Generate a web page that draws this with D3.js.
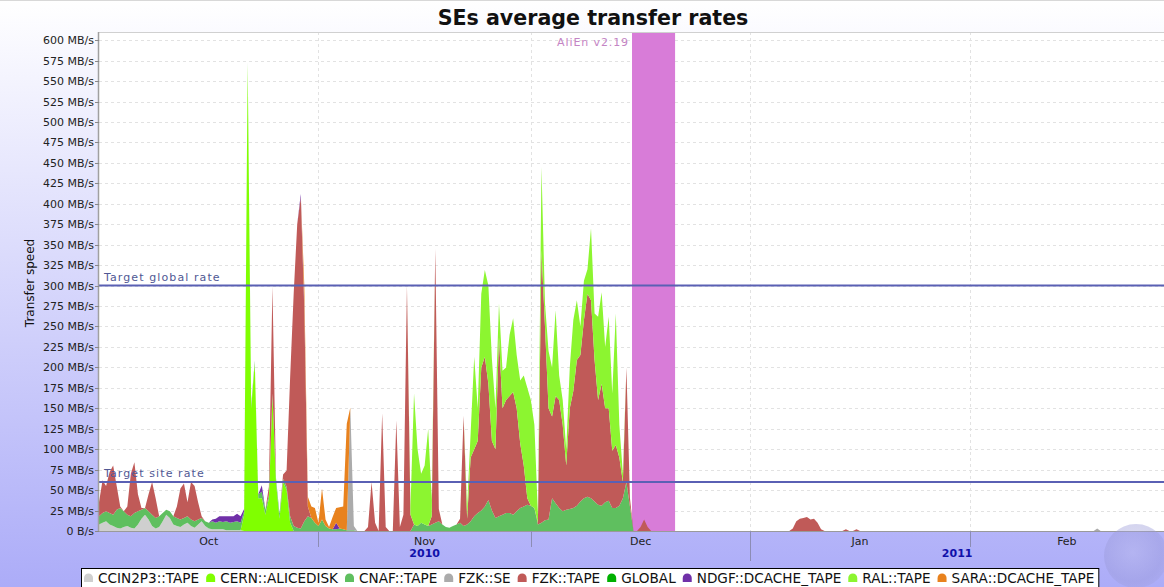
<!DOCTYPE html>
<html>
<head>
<meta charset="utf-8">
<script src="https://cdn.jsdelivr.net/npm/d3@7"></script>
<style>
body { margin: 0; background: #fff; font-family: "DejaVu Sans", sans-serif; }
svg { display: block; }
</style>
</head>
<body>
<svg id="chart" width="1164" height="587"></svg>
<script>
// one sample every 12 hours, starting 1 Oct 2010 (UTC)
var startTime = Date.UTC(2010, 9, 1);
var endTime = Date.UTC(2011, 1, 28, 10, 30);
var stepMs = 12 * 3600 * 1000;
var nSamples = 302;

// every series: list of runs [first sample index, [MB/s, ...]], zero outside the runs
var ccin2p3Tape = [
    [0, [8,10,12,8,6,4,3,5,6,4, 3,8,15,20,14,6,3,5,12,20, 16,8,6,5,8,10,6,4,8,12, 6,3,2,2,2,2,1,1,1,1, 1]]
];
var cernAlicedisk = [
    [41, [20,570,150,205,40,40,20,40,165,60,15,60,50,10]]
];
var cnafTape = [
    [0, [10,12,12,14,14,22,25,19,14,14, 19,16,11,8,10,14,13,13,10,6, 8,10,10,9,8,8,8,8,6,4,
         6,7,10,8,10,9,11,9,10,11, 9,4,3,4,3,5,8,6,4,3, 5,6,4,4,8,6,4,3,12,18,
         16,10,6,14,6,3,2,2,3,2, 1,1,1]],
    [89, [8,6,10,8,6,8,10,12,8,5, 4,6,8,10,6,8,12,18,22,25, 30,38,25,16,18,20,22,22,20,24,
          28,30,32,31,28,8,10,13,14,40, 34,28,24,26,27,28,31,36,40,42, 40,36,32,31,35,37,28,28,31,40,
          60,30]]
];
var fzkSe = [
    [71, [150,5]],
    [282, [3]]
];
var fzkTape = [
    [0, [17,40,31,50,60,29,2,0,10,52, 62,21,2,0,21,40,24,0,0,0, 0,0,14,38,42,17,46,43,21,2]],
    [48, [10,131,0,0,5,20,170,284,371,405,258,12]],
    [76, [5,60,10,0,144,5,0,0,135,5,20,300,20]],
    [94, [10,335,15]],
    [102, [5,135,7,78,82,88,175,183,142,85, 84,219,130,138,143,150,126,79,50,8,
           0,0,2,333,237,136,100,131,132,106, 54,123,143,178,179,218,248,242,173,128,
           149,115,113,70,77,59,20,140,10]],
    [153, [5,14,5]],
    [196, [3,12,15,16,17,14,15,10,2]],
    [211, [2]],
    [214, [2]]
];
var globalSe = [];
var ndgfTape = [
    [32, [2,5,6,7,6,8,7,9,8,3]],
    [46, [8]],
    [57, [4,5]],
    [67, [8]]
];
var ralTape = [
    [88, [10,160,94,60,72,119,20]],
    [104, [15,30,113,40,90,106,120,100,50,41, 46,40,75,90,65,77,110,135,129,102,
           10,102,28,70,60,105,30,30,20,50, 87,73,35,48,30,88,57,102,112,75,
           112,70,161,40,10,0]]
];
var saraTape = [
    [58, [25,12,14,18,4,38,8,2,15,18,26,28,130]]
];

var seriesNames = ["CCIN2P3::TAPE", "CERN::ALICEDISK", "CNAF::TAPE", "FZK::SE", "FZK::TAPE",
                   "GLOBAL", "NDGF::DCACHE_TAPE", "RAL::TAPE", "SARA::DCACHE_TAPE"];
var seriesRuns = [ccin2p3Tape, cernAlicedisk, cnafTape, fzkSe, fzkTape,
                  globalSe, ndgfTape, ralTape, saraTape];
var seriesColors = ["#cfcfcf", "#80ff00", "#5fbf5f", "#ababab", "#c05a58",
                    "#00b000", "#7030a8", "#8cf530", "#e8821e"];

var yTicks = d3.range(0, 601, 25);
var targets = [
    {label: "Target global rate", value: 300},
    {label: "Target site rate", value: 60}
];
var release = {label: "AliEn v2.19", from: Date.UTC(2010, 11, 15, 7), to: Date.UTC(2010, 11, 21, 9)};

// ---------------------------------------------------------------------------

var svg = d3.select("#chart");
var W = 1164, H = 587;
var plot = {left: 99, right: 1164, top: 32, bottom: 531};

var x = d3.scaleUtc().domain([startTime, endTime]).range([plot.left, plot.right]);
var y = d3.scaleLinear().domain([0, 610]).range([plot.bottom, plot.top]);

// rows for the stack
var rows = d3.range(nSamples).map(function(i) {
    var r = {date: new Date(startTime + i * stepMs)};
    seriesNames.forEach(function(n) { r[n] = 0; });
    return r;
});
seriesRuns.forEach(function(runs, k) {
    runs.forEach(function(run) {
        run[1].forEach(function(v, j) {
            if (rows[run[0] + j]) rows[run[0] + j][seriesNames[k]] = v;
        });
    });
});

var stacked = d3.stack().keys(seriesNames)(rows);

var defs = svg.append("defs");
var bg = defs.append("linearGradient").attr("id", "bg")
    .attr("x1", 0).attr("y1", 0).attr("x2", 0).attr("y2", 1);
bg.append("stop").attr("offset", "0%").attr("stop-color", "#ffffff");
bg.append("stop").attr("offset", "100%").attr("stop-color", "#acacf8");

var globe = defs.append("radialGradient").attr("id", "globe")
    .attr("cx", "45%").attr("cy", "45%").attr("r", "60%");
globe.append("stop").attr("offset", "0%").attr("stop-color", "#b8b8e8");
globe.append("stop").attr("offset", "75%").attr("stop-color", "#9a9ad8");
globe.append("stop").attr("offset", "100%").attr("stop-color", "#a4a4e4");

defs.append("clipPath").attr("id", "clip").append("rect")
    .attr("x", plot.left).attr("y", plot.top)
    .attr("width", plot.right - plot.left).attr("height", plot.bottom - plot.top);

svg.append("rect").attr("width", W).attr("height", H).attr("fill", "url(#bg)");
svg.append("line").attr("x1", 0).attr("x2", W).attr("y1", 0.5).attr("y2", 0.5)
    .attr("stroke", "#d8d8d8");

// plot background
svg.append("rect")
    .attr("x", plot.left).attr("y", plot.top)
    .attr("width", plot.right - plot.left).attr("height", plot.bottom - plot.top)
    .attr("fill", "#fff");

var monthBounds = d3.utcMonth.range(d3.utcMonth.ceil(new Date(startTime + 1)), new Date(endTime));

// grid
svg.append("g").selectAll("line").data(yTicks.slice(1)).enter().append("line")
    .attr("x1", plot.left).attr("x2", plot.right)
    .attr("y1", function(d) { return Math.round(y(d)) + 0.5; })
    .attr("y2", function(d) { return Math.round(y(d)) + 0.5; })
    .attr("stroke", "#e2e2e2").attr("stroke-dasharray", "3,3");
svg.append("g").selectAll("line").data(monthBounds).enter().append("line")
    .attr("x1", function(d) { return Math.round(x(d)) + 0.5; })
    .attr("x2", function(d) { return Math.round(x(d)) + 0.5; })
    .attr("y1", plot.top).attr("y2", plot.bottom)
    .attr("stroke", "#e2e2e2").attr("stroke-dasharray", "3,3");

// release marker band
svg.append("rect")
    .attr("x", x(release.from)).attr("y", plot.top)
    .attr("width", x(release.to) - x(release.from)).attr("height", plot.bottom - plot.top)
    .attr("fill", "#d87cd8");
svg.append("text")
    .attr("x", x(release.from) - 3).attr("y", 46)
    .attr("text-anchor", "end")
    .attr("font-size", 11).attr("letter-spacing", 0.9)
    .attr("fill", "#c484c4")
    .text(release.label);

// stacked areas
var area = d3.area()
    .x(function(d) { return x(d.data.date); })
    .y0(function(d) { return y(d[0]); })
    .y1(function(d) { return y(d[1]); });

svg.append("g").attr("clip-path", "url(#clip)")
    .selectAll("path").data(stacked).enter().append("path")
    .attr("d", area)
    .attr("fill", function(d, i) { return seriesColors[i]; });

// target lines
targets.forEach(function(t) {
    svg.append("line")
        .attr("x1", plot.left).attr("x2", plot.right)
        .attr("y1", y(t.value)).attr("y2", y(t.value))
        .attr("stroke", "#5a60b4").attr("stroke-width", 2);
    svg.append("text")
        .attr("x", plot.left + 5).attr("y", y(t.value) - 5)
        .attr("font-size", 11).attr("letter-spacing", 1.1)
        .attr("fill", "#505894")
        .text(t.label);
});

// plot frame
svg.append("line").attr("x1", plot.left).attr("x2", plot.right)
    .attr("y1", plot.top + 0.5).attr("y2", plot.top + 0.5).attr("stroke", "#d0d0d0");
svg.append("line").attr("x1", plot.left - 0.5).attr("x2", plot.left - 0.5)
    .attr("y1", plot.top).attr("y2", plot.bottom).attr("stroke", "#a0a0a0").attr("stroke-width", 1.5);
svg.append("line").attr("x1", plot.left).attr("x2", plot.right)
    .attr("y1", plot.bottom + 0.5).attr("y2", plot.bottom + 0.5).attr("stroke", "#9a9a9a");

// y axis
var yAxis = svg.append("g").attr("font-size", 11).attr("fill", "#222");
yAxis.selectAll("line").data(yTicks).enter().append("line")
    .attr("x1", plot.left - 4).attr("x2", plot.left)
    .attr("y1", function(d) { return Math.round(y(d)) + 0.5; })
    .attr("y2", function(d) { return Math.round(y(d)) + 0.5; })
    .attr("stroke", "#888");
yAxis.selectAll("text").data(yTicks).enter().append("text")
    .attr("x", plot.left - 5)
    .attr("y", function(d) { return y(d) + 4; })
    .attr("text-anchor", "end")
    .text(function(d) { return d === 0 ? "0 B/s" : d + " MB/s"; });

svg.append("text")
    .attr("transform", "translate(34,283) rotate(-90)")
    .attr("text-anchor", "middle")
    .attr("font-size", 12).attr("fill", "#111")
    .text("Transfer speed");

// x axis: months and years, labels centred in the visible part of each period
var xAxis = svg.append("g");
xAxis.selectAll("line.m").data(monthBounds).enter().append("line")
    .attr("class", "m")
    .attr("x1", function(d) { return Math.round(x(d)) + 0.5; })
    .attr("x2", function(d) { return Math.round(x(d)) + 0.5; })
    .attr("y1", plot.bottom)
    .attr("y2", function(d) { return d.getUTCMonth() === 0 ? 561 : 547; })
    .attr("stroke", "#8c8cb4");

var monthStarts = [new Date(startTime)].concat(monthBounds);
xAxis.selectAll("text.m").data(monthStarts).enter().append("text")
    .attr("class", "m")
    .attr("x", function(d) {
        var e = Math.min(+d3.utcMonth.offset(d, 1), endTime);
        return (x(d) + x(e)) / 2;
    })
    .attr("y", 545)
    .attr("text-anchor", "middle").attr("font-size", 11).attr("fill", "#222")
    .text(d3.utcFormat("%b"));

var yearStarts = [new Date(startTime), new Date(Date.UTC(2011, 0, 1))];
xAxis.selectAll("text.y").data(yearStarts).enter().append("text")
    .attr("class", "y")
    .attr("x", function(d) {
        var e = Math.min(+d3.utcYear.offset(d3.utcYear.floor(d), 1), endTime);
        return (x(d) + x(e)) / 2;
    })
    .attr("y", 557)
    .attr("text-anchor", "middle").attr("font-size", 11).attr("font-weight", "bold")
    .attr("fill", "#1010aa")
    .text(d3.utcFormat("%Y"));

// globe decoration
svg.append("circle").attr("cx", 1136).attr("cy", 556).attr("r", 32)
    .attr("fill", "url(#globe)").attr("opacity", 0.42);

// title
svg.append("text")
    .attr("x", 593).attr("y", 25)
    .attr("text-anchor", "middle")
    .attr("font-size", 20.6).attr("font-weight", "bold").attr("fill", "#111")
    .text("SEs average transfer rates");

// legend
var legend = svg.append("g");
var box = legend.append("rect")
    .attr("x", 81.5).attr("y", 568.5).attr("height", 24)
    .attr("fill", "#fff").attr("stroke", "#000");
var lx = 84;
seriesNames.forEach(function(n, i) {
    legend.append("path")
        .attr("d", "M" + lx + ",582 L" + lx + ",578 A4.5,4.5 0 0 1 " + (lx + 9) + ",578 L" + (lx + 9) + ",582 Z")
        .attr("fill", seriesColors[i]);
    var t = legend.append("text")
        .attr("x", lx + 14).attr("y", 583)
        .attr("font-size", 13.6).attr("fill", "#111")
        .text(n);
    lx += 14 + t.node().getComputedTextLength() + 7;
});
box.attr("width", lx - 81 - 3);
</script>
</body>
</html>
